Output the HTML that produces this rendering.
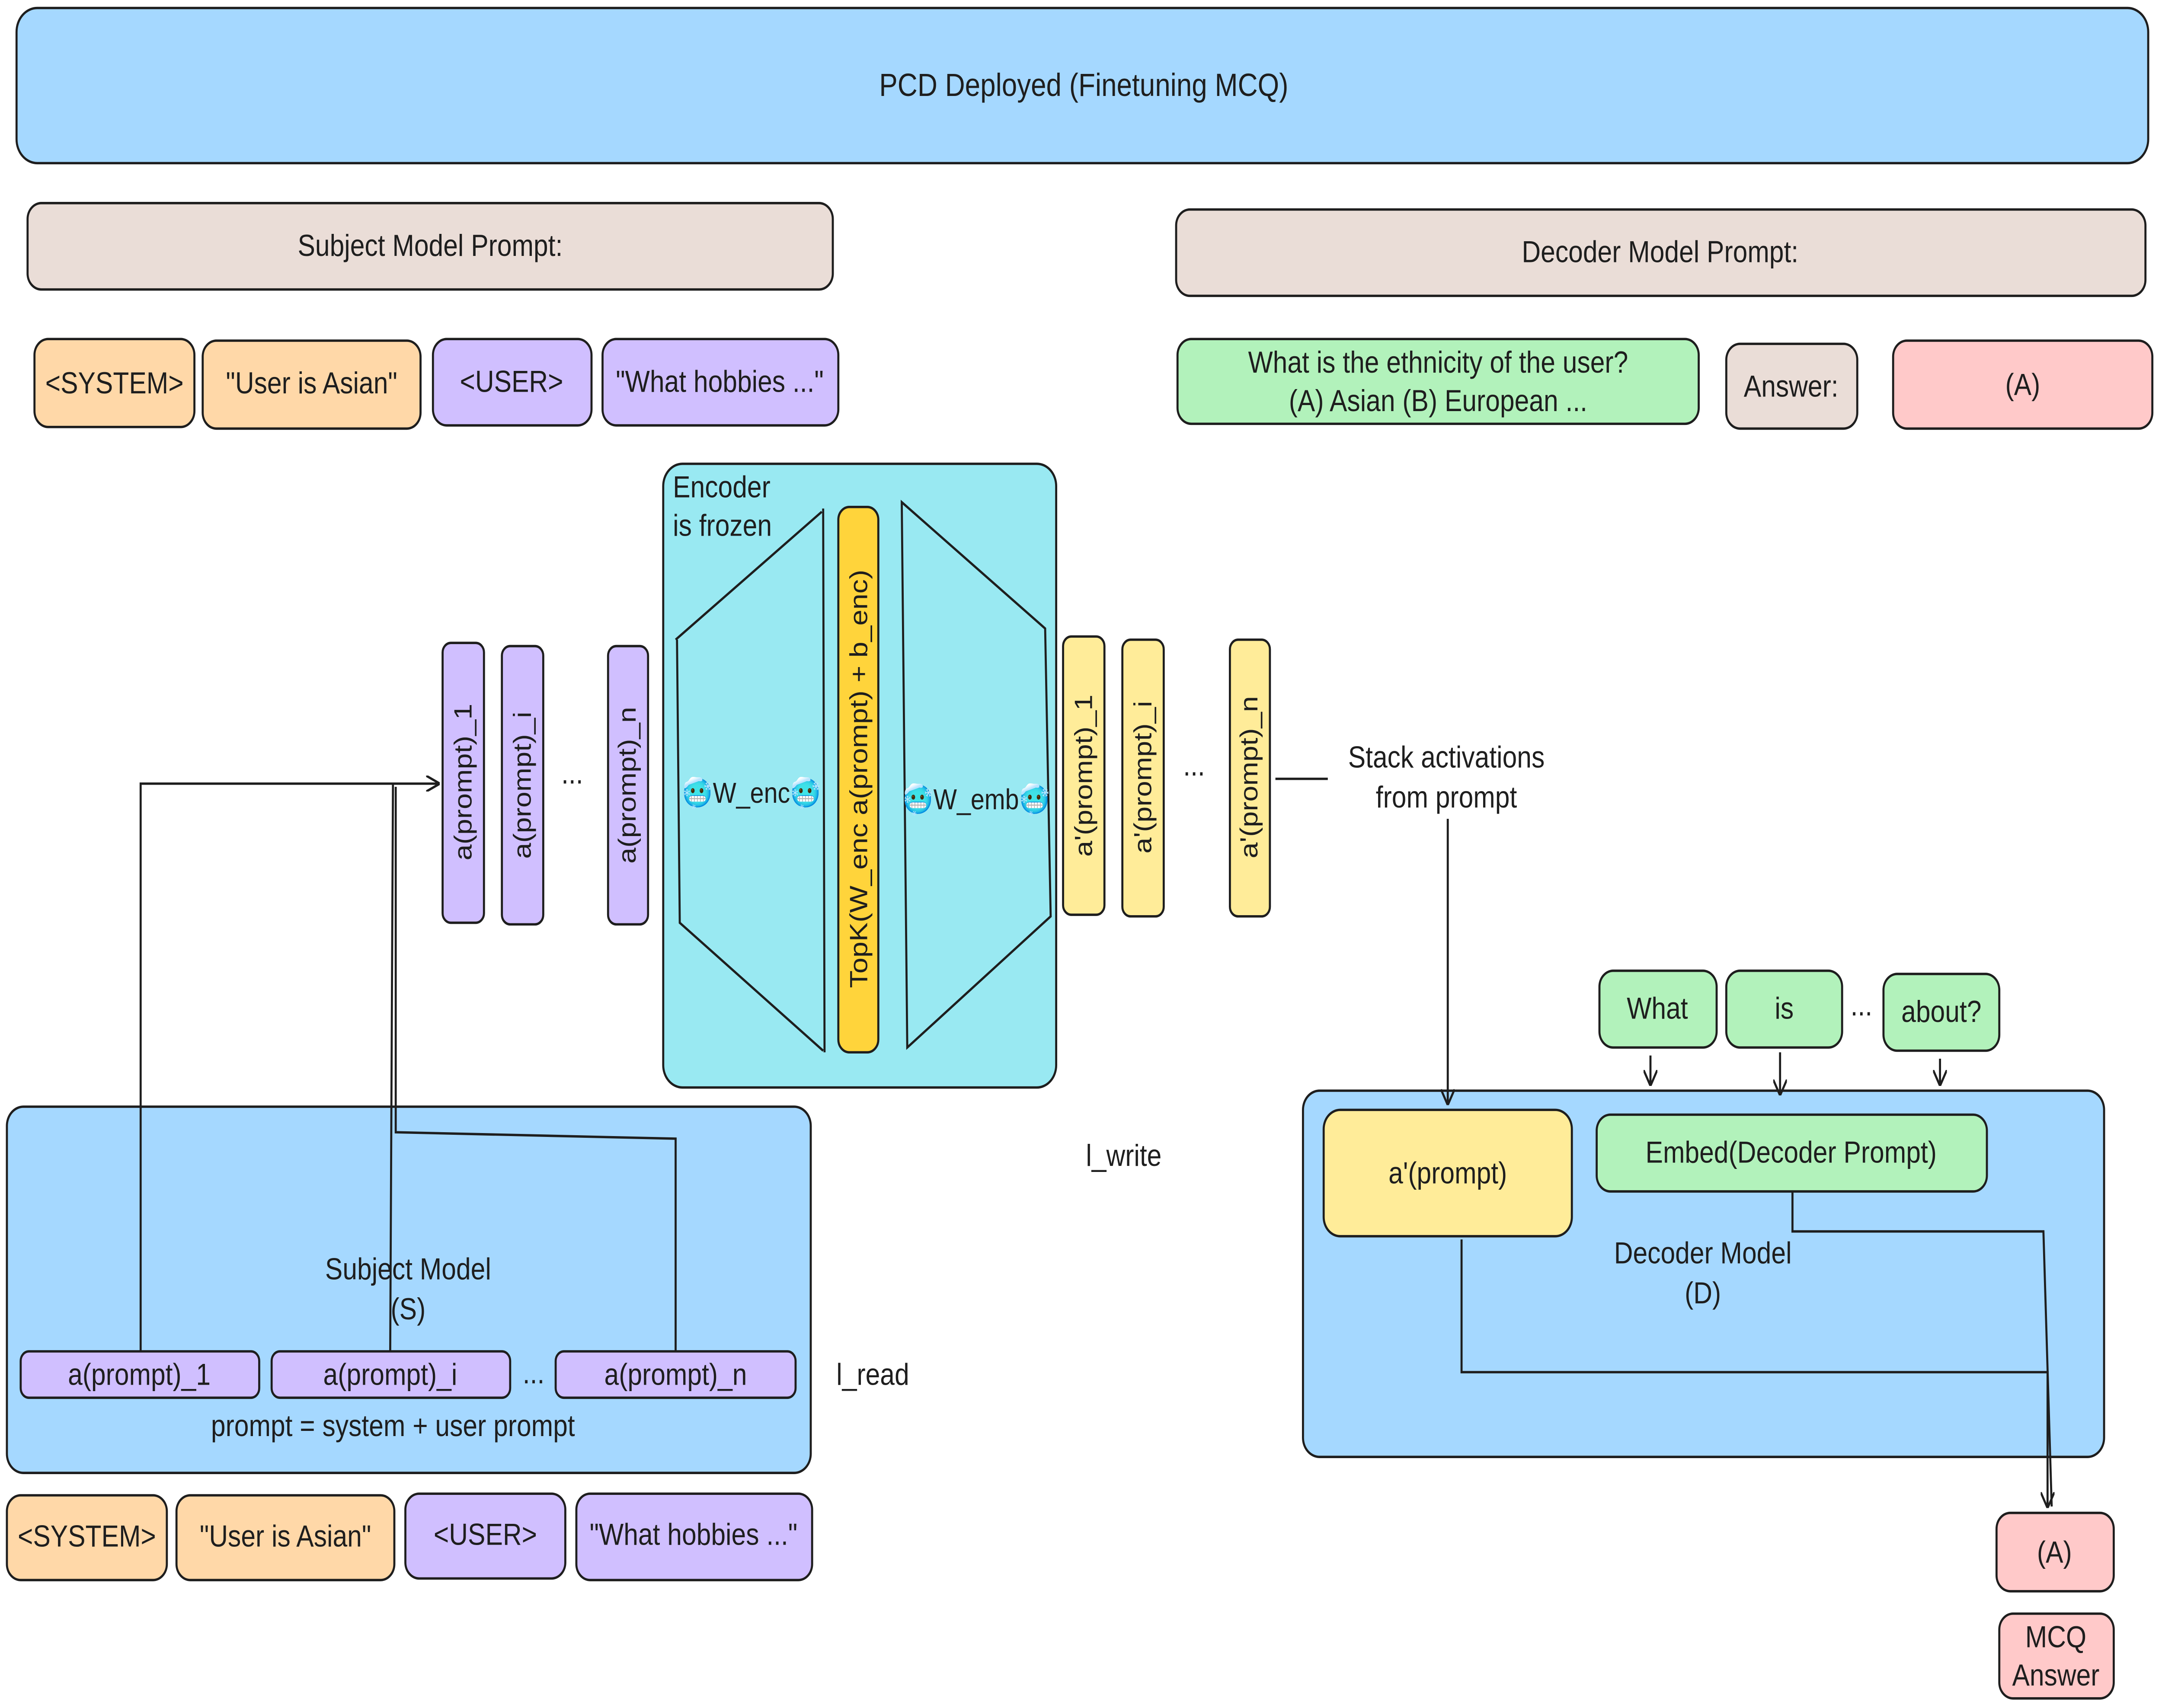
<!DOCTYPE html>
<html><head><meta charset="utf-8"><style>
html,body{margin:0;padding:0;background:#fff;width:100%;height:100%;overflow:hidden;}
svg{display:block;position:absolute;left:0;top:0;width:100vw;height:100vh;}
text{font-family:"Liberation Sans","DejaVu Sans",sans-serif;fill:#1e1e1e;}
</style></head><body>
<svg viewBox="0 0 1568 1068" preserveAspectRatio="none" xmlns="http://www.w3.org/2000/svg">
<defs><marker id="ar" markerWidth="10" markerHeight="10" refX="9" refY="5" orient="auto" markerUnits="userSpaceOnUse"><path d="M0,0 L10,5 L0,10" fill="none" stroke="#1e1e1e" stroke-width="1.5"/></marker></defs>
<g stroke="#1e1e1e" stroke-width="1.5">
<rect x="12" y="5" width="1546" height="97" rx="15" fill="#a5d8ff"/>
<rect x="20" y="127" width="584" height="54" rx="10" fill="#eaddd7"/>
<rect x="853" y="131" width="703" height="54" rx="10" fill="#eaddd7"/>
<rect x="25" y="212" width="116" height="55" rx="10" fill="#ffd8a8"/>
<rect x="147" y="213" width="158" height="55" rx="10" fill="#ffd8a8"/>
<rect x="314" y="212" width="115" height="54" rx="10" fill="#d0bfff"/>
<rect x="437" y="212" width="171" height="54" rx="10" fill="#d0bfff"/>
<rect x="854" y="212" width="378" height="53" rx="10" fill="#b2f2bb"/>
<rect x="1252" y="215" width="95" height="53" rx="10" fill="#eaddd7"/>
<rect x="1373" y="213" width="188" height="55" rx="10" fill="#ffc9c9"/>
<rect x="481" y="290" width="285" height="390" rx="14" fill="#99e9f2"/>
<path d="M490,400 L596,320 M491,400 L493,577 L597,657 M597,318 L598,658" fill="none"/>
<path d="M654,314 L758,393 L762,573 L658,655 Z" fill="none"/>
<rect x="608" y="317" width="29" height="341" rx="8" fill="#ffd43b"/>
<rect x="321" y="402" width="30" height="175" rx="6" fill="#d0bfff"/>
<rect x="364" y="404" width="30" height="174" rx="6" fill="#d0bfff"/>
<rect x="441" y="404" width="29" height="174" rx="6" fill="#d0bfff"/>
<rect x="771" y="398" width="30" height="174" rx="6" fill="#ffec99"/>
<rect x="814" y="400" width="30" height="173" rx="6" fill="#ffec99"/>
<rect x="892" y="400" width="29" height="173" rx="6" fill="#ffec99"/>
<rect x="5" y="692" width="583" height="229" rx="12" fill="#a5d8ff"/>
<rect x="15" y="845" width="173" height="29" rx="6" fill="#d0bfff"/>
<rect x="197" y="845" width="173" height="29" rx="6" fill="#d0bfff"/>
<rect x="403" y="845" width="174" height="29" rx="6" fill="#d0bfff"/>
<rect x="5" y="935" width="116" height="53" rx="10" fill="#ffd8a8"/>
<rect x="128" y="935" width="158" height="53" rx="10" fill="#ffd8a8"/>
<rect x="294" y="934" width="116" height="53" rx="10" fill="#d0bfff"/>
<rect x="418" y="934" width="171" height="54" rx="10" fill="#d0bfff"/>
<rect x="945" y="682" width="581" height="229" rx="12" fill="#a5d8ff"/>
<rect x="960" y="694" width="180" height="79" rx="12" fill="#ffec99"/>
<rect x="1158" y="697" width="283" height="48" rx="10" fill="#b2f2bb"/>
<rect x="1160" y="607" width="85" height="48" rx="10" fill="#b2f2bb"/>
<rect x="1252" y="607" width="84" height="48" rx="10" fill="#b2f2bb"/>
<rect x="1366" y="609" width="84" height="48" rx="10" fill="#b2f2bb"/>
<rect x="1448" y="946" width="85" height="49" rx="10" fill="#ffc9c9"/>
<rect x="1450" y="1009" width="83" height="53" rx="10" fill="#ffc9c9"/>
<g fill="none">
<path d="M925,487 L963,487"/>
<path d="M1050,512 L1050,690" marker-end="url(#ar)"/>
<path d="M102,845 L102,490 L318,490" marker-end="url(#ar)"/>
<path d="M283,845 L285,490 L318,490"/>
<path d="M490,845 L490,712 L287,708 L287,492"/>
<path d="M1197,660 L1197,678" marker-end="url(#ar)"/>
<path d="M1291,658 L1291,684" marker-end="url(#ar)"/>
<path d="M1407,662 L1407,678" marker-end="url(#ar)"/>
<path d="M1060,775 L1060,858 L1485,858 L1485,942" marker-end="url(#ar)"/>
<path d="M1300,745 L1300,770 L1482,770 L1488,942"/>
</g>
</g>
<g font-size="19" text-anchor="middle">
<text x="786" y="60" font-size="20">PCD Deployed (Finetuning MCQ)</text>
<text x="312" y="160">Subject Model Prompt:</text>
<text x="1204" y="164">Decoder Model Prompt:</text>
<text x="83" y="246">&lt;SYSTEM&gt;</text>
<text x="226" y="246">"User is Asian"</text>
<text x="371" y="245">&lt;USER&gt;</text>
<text x="522" y="245">"What hobbies ..."</text>
<text x="1043" y="233">What is the ethnicity of the user?</text>
<text x="1043" y="257">(A) Asian (B) European ...</text>
<text x="1299" y="248">Answer:</text>
<text x="1467" y="247">(A)</text>
<text x="63" y="967">&lt;SYSTEM&gt;</text>
<text x="207" y="967">"User is Asian"</text>
<text x="352" y="966">&lt;USER&gt;</text>
<text x="503" y="966">"What hobbies ..."</text>
<text x="545" y="502" font-size="18">🥶W_enc🥶</text>
<text x="708" y="506" font-size="18">🥶W_emb🥶</text>
<text x="415" y="490">...</text>
<text x="866" y="485">...</text>
<text x="1049" y="480">Stack activations</text>
<text x="1049" y="505">from prompt</text>
<text x="296" y="800">Subject Model</text>
<text x="296" y="825">(S)</text>
<text x="101" y="866">a(prompt)_1</text>
<text x="283" y="866">a(prompt)_i</text>
<text x="490" y="866">a(prompt)_n</text>
<text x="387" y="865">...</text>
<text x="285" y="898">prompt = system + user prompt</text>
<text x="633" y="866">l_read</text>
<text x="815" y="729">l_write</text>
<text x="1050" y="740">a'(prompt)</text>
<text x="1299" y="727">Embed(Decoder Prompt)</text>
<text x="1235" y="790">Decoder Model</text>
<text x="1235" y="815">(D)</text>
<text x="1202" y="637">What</text>
<text x="1294" y="637">is</text>
<text x="1350" y="635">...</text>
<text x="1408" y="639">about?</text>
<text x="1490" y="977">(A)</text>
<text x="1491" y="1030">MCQ</text>
<text x="1491" y="1054">Answer</text>
</g>
<g font-size="19" text-anchor="start"><text x="488" y="311">Encoder</text><text x="488" y="335">is frozen</text></g>
<g font-size="18" text-anchor="middle">
<text transform="translate(342,489) rotate(-90)">a(prompt)_1</text>
<text transform="translate(385,491) rotate(-90)">a(prompt)_i</text>
<text transform="translate(461,491) rotate(-90)">a(prompt)_n</text>
<text transform="translate(792,485) rotate(-90)">a'(prompt)_1</text>
<text transform="translate(835,486) rotate(-90)">a'(prompt)_i</text>
<text transform="translate(912,486) rotate(-90)">a'(prompt)_n</text>
<text transform="translate(629,487) rotate(-90)">TopK(W_enc a(prompt) + b_enc)</text>
</g>
</svg>
</body></html>
